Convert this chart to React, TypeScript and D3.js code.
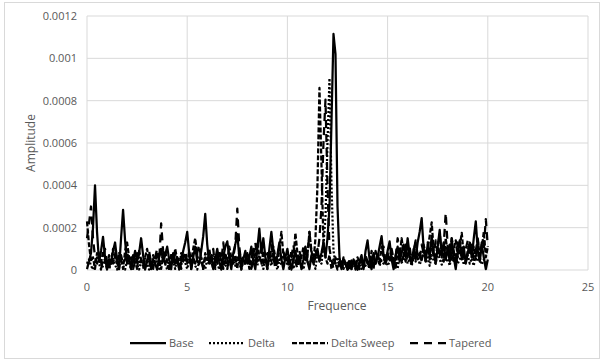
import React from "react";
import * as d3 from "d3";

// Frequency grid: 0 .. 20 in steps of 0.1
const STEP = 0.1;
// Amplitudes are listed in micro-units (×1e-6)
const MICRO = 1e-6;

const base = [
  4, 40, 80, 200, 400, 180, 40, 90, 157, 60,
  2, 50, 30, 90, 130, 50, 4, 150, 284, 140,
  30, 60, 4, 40, 90, 40, 80, 150, 70, 2,
  40, 70, 4, 50, 30, 2, 60, 100, 40, 70,
  110, 50, 4, 80, 30, 60, 2, 40, 90, 130,
  180, 80, 4, 60, 110, 40, 30, 90, 160, 265,
  120, 30, 70, 4, 50, 100, 40, 2, 60, 110,
  135, 60, 4, 80, 120, 170, 60, 4, 50, 90,
  30, 60, 110, 40, 4, 100, 195, 80, 150, 60,
  4, 100, 180, 90, 30, 70, 130, 50, 4, 60,
  100, 40, 2, 50, 90, 30, 60, 4, 50, 110,
  40, 4, 70, 30, 60, 100, 40, 80, 130, 60,
  150, 300, 700, 1115, 1020, 300, 60, 4, 50, 30,
  2, 40, 4, 50, 30, 2, 40, 70, 4, 90,
  140, 50, 4, 80, 30, 60, 110, 160, 70, 30,
  90, 135, 50, 4, 70, 110, 40, 80, 120, 60,
  150, 70, 30, 100, 50, 130, 180, 245, 100, 40,
  120, 60, 160, 80, 30, 110, 190, 70, 130, 50,
  100, 40, 150, 60, 4, 90, 140, 50, 110, 30,
  80, 130, 60, 150, 230, 90, 40, 120, 60, 4,
  50,
];

const delta = [
  30, 50, 20, 2, 40, 60, 30, 2, 20, 50,
  40, 5, 30, 60, 25, 2, 35, 55, 20, 2,
  45, 30, 5, 50, 70, 25, 2, 40, 20, 55,
  30, 2, 45, 20, 60, 35, 5, 40, 70, 30,
  2, 50, 25, 40, 5, 60, 30, 20, 75, 35,
  5, 45, 25, 60, 20, 2, 40, 55, 30, 5,
  50, 25, 40, 70, 20, 35, 2, 45, 60, 25,
  5, 40, 30, 55, 20, 65, 35, 2, 45, 25,
  60, 30, 5, 50, 35, 20, 70, 40, 5, 55,
  30, 45, 20, 65, 35, 2, 50, 25, 40, 60,
  20, 35, 55, 5, 45, 30, 70, 25, 2, 50,
  40, 20, 60, 35, 5, 80, 45, 30, 120, 250,
  600, 906, 400, 90, 30, 60, 20, 40, 5, 30,
  2, 25, 5, 35, 20, 2, 30, 5, 40, 20,
  35, 5, 50, 25, 40, 60, 20, 45, 30, 55,
  20, 40, 65, 30, 50, 5, 70, 35, 45, 80,
  30, 55, 20, 60, 40, 75, 25, 50, 85, 35,
  60, 20, 70, 45, 30, 90, 50, 25, 65, 40,
  55, 20, 75, 35, 60, 30, 50, 80, 25, 45,
  70, 30, 55, 20, 85, 40, 60, 25, 50, 35,
  45,
];

const deltaSweep = [
  230, 120, 40, 60, 5, 80, 50, 30, 90, 40,
  5, 70, 40, 100, 60, 30, 80, 50, 5, 90,
  130, 60, 30, 70, 40, 5, 90, 50, 30, 60,
  100, 40, 5, 70, 30, 80, 50, 5, 60, 90,
  40, 5, 70, 30, 100, 50, 5, 80, 40, 60,
  30, 90, 40, 100, 150, 70, 30, 60, 5, 80,
  50, 100, 40, 5, 70, 30, 90, 50, 5, 80,
  40, 110, 60, 30, 70, 5, 90, 40, 60, 30,
  80, 5, 50, 100, 40, 130, 60, 30, 90, 50,
  5, 70, 40, 110, 60, 30, 100, 180, 70, 40,
  60, 5, 90, 50, 175, 80, 30, 60, 110, 40,
  70, 180, 90, 40, 150, 400, 860, 500, 120, 60,
  30, 70, 5, 50, 30, 2, 40, 5, 60, 30,
  5, 50, 25, 40, 2, 60, 30, 45, 5, 70,
  40, 5, 90, 50, 30, 80, 40, 110, 60, 30,
  70, 40, 100, 50, 5, 90, 60, 150, 80, 40,
  110, 60, 30, 90, 130, 50, 80, 40, 120, 70,
  100, 160, 225, 90, 50, 130, 70, 110, 40, 150,
  80, 120, 50, 100, 140, 60, 110, 175, 70, 40,
  90, 130, 60, 110, 50, 140, 70, 100, 180, 60,
  110,
];

const tapered = [
  150, 220, 300, 150, 60, 30, 70, 5, 50, 100,
  40, 5, 60, 30, 80, 40, 5, 70, 30, 50,
  90, 30, 60, 5, 40, 80, 30, 50, 5, 60,
  40, 90, 30, 5, 60, 100, 40, 220, 90, 30,
  50, 5, 70, 40, 80, 30, 60, 5, 50, 90,
  40, 70, 5, 60, 30, 80, 120, 50, 5, 60,
  30, 80, 40, 100, 5, 60, 90, 40, 130, 50,
  5, 70, 40, 60, 120, 290, 110, 30, 60, 40,
  90, 50, 5, 70, 130, 40, 60, 100, 30, 50,
  80, 40, 120, 60, 5, 70, 110, 50, 90, 40,
  30, 80, 60, 120, 40, 5, 90, 50, 70, 110,
  60, 180, 80, 40, 90, 70, 150, 300, 600, 805,
  400, 100, 50, 5, 60, 30, 40, 4, 50, 25,
  35, 2, 45, 5, 30, 55, 4, 40, 25, 60,
  30, 70, 40, 5, 90, 50, 30, 60, 110, 40,
  80, 50, 100, 30, 60, 150, 90, 40, 70, 120,
  60, 110, 40, 90, 140, 70, 50, 120, 80, 60,
  130, 50, 100, 70, 140, 90, 180, 60, 120, 270,
  110, 60, 150, 90, 40, 130, 80, 110, 60, 100,
  140, 70, 120, 50, 90, 150, 60, 130, 100, 240,
  110,
];

const xTicks = [0, 5, 10, 15, 20, 25];
const yTicks = [0, 0.0002, 0.0004, 0.0006, 0.0008, 0.001, 0.0012];

const seriesNames = ["Base", "Delta", "Delta Sweep", "Tapered"];
const seriesValues = [base, delta, deltaSweep, tapered];
const seriesDash = ["none", "2 2", "5 2", "8 6"];

const W = 604;
const H = 362;
const FONT = "'Open Sans', 'Liberation Sans', sans-serif";
const TEXT = "#595959";
const GRID = "#d9d9d9";

export default function App() {
  const x = d3.scaleLinear().domain([0, 25]).range([87, 588]);
  const y = d3.scaleLinear().domain([0, 0.0012]).range([270, 16]);

  const line = d3
    .line<number>()
    .x((_, i) => x(i * STEP))
    .y((v) => y(v * MICRO));

  const legendX = [130, 209, 292, 410];

  return (
    <svg
      width={W}
      height={H}
      style={{ position: "absolute", left: 0, top: 0, background: "#fff" }}
      fontFamily={FONT}
    >
      <rect x={4.5} y={2.5} width={595} height={356} fill="#fff" stroke={GRID} />

      {/* grid */}
      {yTicks.map((t) => (
        <line key={"gy" + t} x1={x(0)} x2={x(25)} y1={y(t)} y2={y(t)} stroke={GRID} strokeWidth={1} />
      ))}
      {xTicks.map((t) => (
        <line key={"gx" + t} x1={x(t)} x2={x(t)} y1={y(0)} y2={y(0.0012)} stroke={GRID} strokeWidth={1} />
      ))}

      {/* tick labels */}
      {yTicks.map((t) => (
        <text key={"ly" + t} x={77} y={y(t)} dy="0.35em" textAnchor="end" fontSize={11} fill={TEXT}>
          {String(+t.toFixed(4))}
        </text>
      ))}
      {xTicks.map((t) => (
        <text key={"lx" + t} x={x(t)} y={287} dy="0.35em" textAnchor="middle" fontSize={11} fill={TEXT}>
          {t}
        </text>
      ))}

      {/* axis titles */}
      <text x={337} y={306} dy="0.35em" textAnchor="middle" fontSize={12} fill={TEXT}>
        Frequence
      </text>
      <text
        transform={`translate(31,${(y(0) + y(0.0012)) / 2}) rotate(-90)`}
        dy="0.35em"
        textAnchor="middle"
        fontSize={12}
        fill={TEXT}
      >
        Amplitude
      </text>

      {/* series */}
      {seriesValues.map((vals, k) => (
        <path
          key={seriesNames[k]}
          d={line(vals) || ""}
          fill="none"
          stroke="#000"
          strokeWidth={2.25}
          strokeDasharray={seriesDash[k]}
          strokeLinejoin="round"
        />
      ))}

      {/* legend */}
      {seriesNames.map((name, k) => (
        <g key={"lg" + name} transform={`translate(${legendX[k]},343)`}>
          <line x1={0} x2={36} y1={0} y2={0} stroke="#000" strokeWidth={2.25} strokeDasharray={seriesDash[k]} />
          <text x={39} y={0} dy="0.35em" fontSize={11} fill={TEXT}>
            {name}
          </text>
        </g>
      ))}
    </svg>
  );
}
